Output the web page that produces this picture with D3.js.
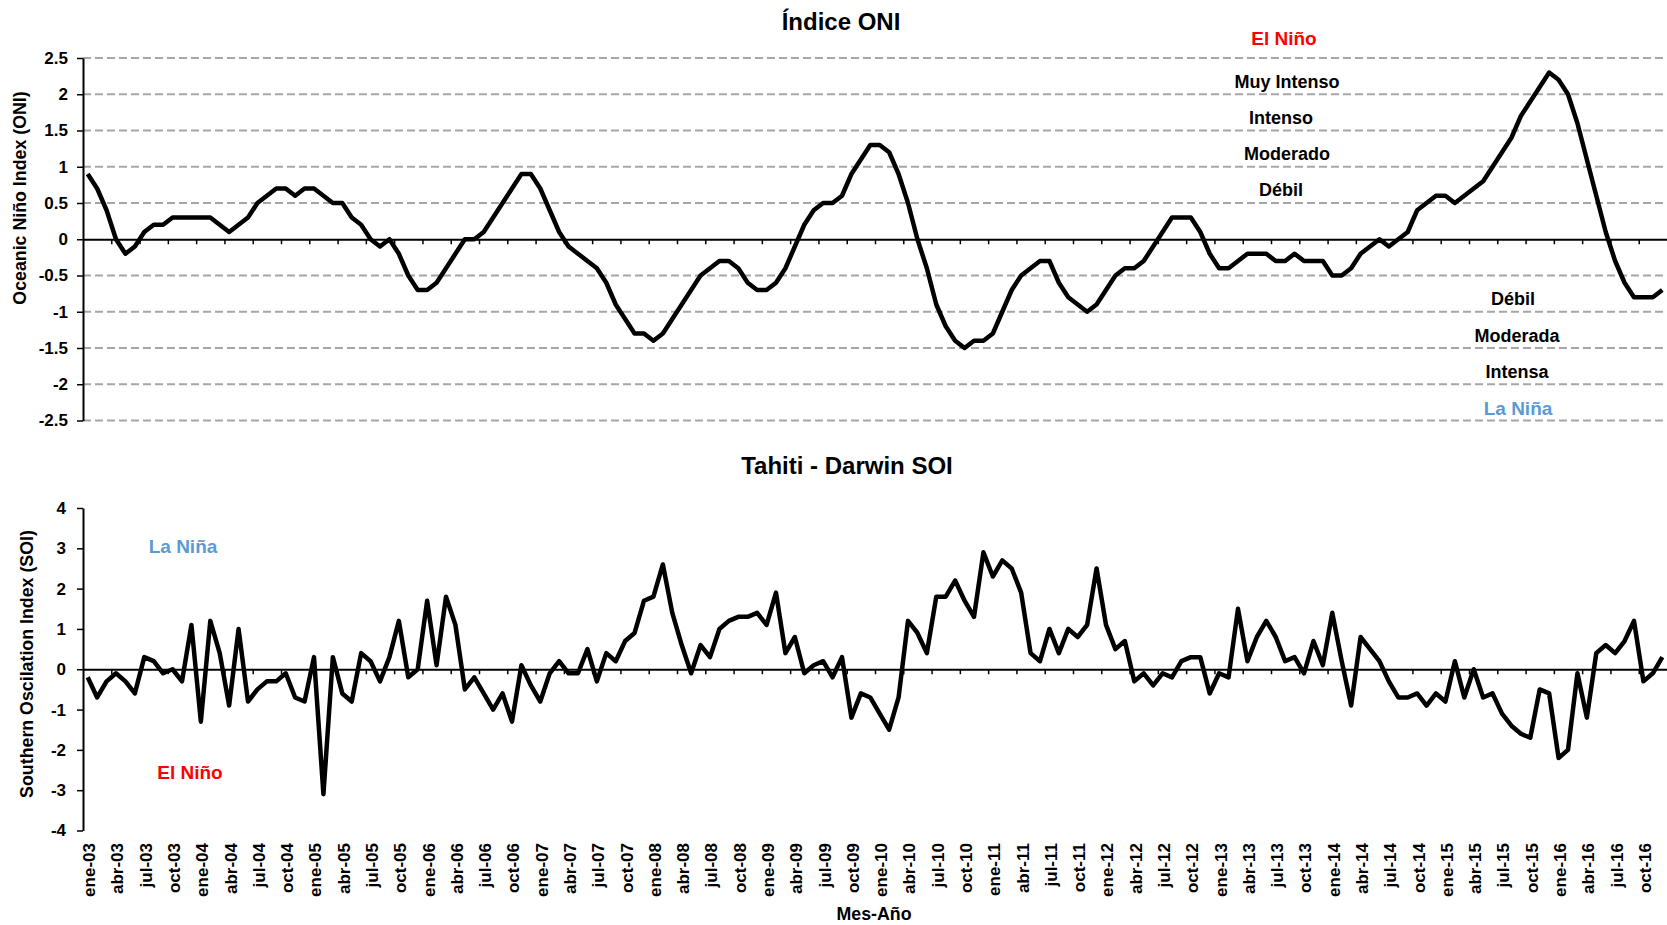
<!DOCTYPE html>
<html>
<head>
<meta charset="utf-8">
<script src="https://cdn.jsdelivr.net/npm/d3@7"></script>
<style>
  body { margin: 0; background: #fff; }
  svg { display: block; font-family: "Liberation Sans", Arial, sans-serif; font-weight: bold; }
</style>
</head>
<body>
<div id="chart"></div>
<script>
// categories: one per month, ene-03 .. dic-16
var monthNames = ["ene", "feb", "mar", "abr", "may", "jun", "jul", "ago", "sep", "oct", "nov", "dic"];
var years = ["03", "04", "05", "06", "07", "08", "09", "10", "11", "12", "13", "14", "15", "16"];

// Oceanic Nino Index, monthly
var oni = [
  0.9, 0.7, 0.4, 0.0, -0.2, -0.1, 0.1, 0.2, 0.2, 0.3, 0.3, 0.3,
  0.3, 0.3, 0.2, 0.1, 0.2, 0.3, 0.5, 0.6, 0.7, 0.7, 0.6, 0.7,
  0.7, 0.6, 0.5, 0.5, 0.3, 0.2, 0.0, -0.1, 0.0, -0.2, -0.5, -0.7,
  -0.7, -0.6, -0.4, -0.2, 0.0, 0.0, 0.1, 0.3, 0.5, 0.7, 0.9, 0.9,
  0.7, 0.4, 0.1, -0.1, -0.2, -0.3, -0.4, -0.6, -0.9, -1.1, -1.3, -1.3,
  -1.4, -1.3, -1.1, -0.9, -0.7, -0.5, -0.4, -0.3, -0.3, -0.4, -0.6, -0.7,
  -0.7, -0.6, -0.4, -0.1, 0.2, 0.4, 0.5, 0.5, 0.6, 0.9, 1.1, 1.3,
  1.3, 1.2, 0.9, 0.5, 0.0, -0.4, -0.9, -1.2, -1.4, -1.5, -1.4, -1.4,
  -1.3, -1.0, -0.7, -0.5, -0.4, -0.3, -0.3, -0.6, -0.8, -0.9, -1.0, -0.9,
  -0.7, -0.5, -0.4, -0.4, -0.3, -0.1, 0.1, 0.3, 0.3, 0.3, 0.1, -0.2,
  -0.4, -0.4, -0.3, -0.2, -0.2, -0.2, -0.3, -0.3, -0.2, -0.3, -0.3, -0.3,
  -0.5, -0.5, -0.4, -0.2, -0.1, 0.0, -0.1, 0.0, 0.1, 0.4, 0.5, 0.6,
  0.6, 0.5, 0.6, 0.7, 0.8, 1.0, 1.2, 1.4, 1.7, 1.9, 2.1, 2.3,
  2.2, 2.0, 1.6, 1.1, 0.6, 0.1, -0.3, -0.6, -0.8, -0.8, -0.8, -0.7
];

// Tahiti - Darwin Southern Oscillation Index, monthly
var soi = [
  -0.2, -0.7, -0.3, -0.1, -0.3, -0.6, 0.3, 0.2, -0.1, 0.0, -0.3, 1.1,
  -1.3, 1.2, 0.4, -0.9, 1.0, -0.8, -0.5, -0.3, -0.3, -0.1, -0.7, -0.8,
  0.3, -3.1, 0.3, -0.6, -0.8, 0.4, 0.2, -0.3, 0.3, 1.2, -0.2, 0.0,
  1.7, 0.1, 1.8, 1.1, -0.5, -0.2, -0.6, -1.0, -0.6, -1.3, 0.1, -0.4,
  -0.8, -0.1, 0.2, -0.1, -0.1, 0.5, -0.3, 0.4, 0.2, 0.7, 0.9, 1.7,
  1.8, 2.6, 1.4, 0.6, -0.1, 0.6, 0.3, 1.0, 1.2, 1.3, 1.3, 1.4,
  1.1, 1.9, 0.4, 0.8, -0.1, 0.1, 0.2, -0.2, 0.3, -1.2, -0.6, -0.7,
  -1.1, -1.5, -0.7, 1.2, 0.9, 0.4, 1.8, 1.8, 2.2, 1.7, 1.3, 2.9,
  2.3, 2.7, 2.5, 1.9, 0.4, 0.2, 1.0, 0.4, 1.0, 0.8, 1.1, 2.5,
  1.1, 0.5, 0.7, -0.3, -0.1, -0.4, -0.1, -0.2, 0.2, 0.3, 0.3, -0.6,
  -0.1, -0.2, 1.5, 0.2, 0.8, 1.2, 0.8, 0.2, 0.3, -0.1, 0.7, 0.1,
  1.4, 0.2, -0.9, 0.8, 0.5, 0.2, -0.3, -0.7, -0.7, -0.6, -0.9, -0.6,
  -0.8, 0.2, -0.7, 0.0, -0.7, -0.6, -1.1, -1.4, -1.6, -1.7, -0.5, -0.6,
  -2.2, -2.0, -0.1, -1.2, 0.4, 0.6, 0.4, 0.7, 1.2, -0.3, -0.1, 0.3
];

var oniTicks = [-2.5, -2, -1.5, -1, -0.5, 0, 0.5, 1, 1.5, 2, 2.5];
var soiTicks = [-4, -3, -2, -1, 0, 1, 2, 3, 4];

// intensity bands on the ONI panel: label and the value it sits at
var ninoBands = [
  {label: "Muy Intenso", v: 2.18, x: 1287},
  {label: "Intenso", v: 1.67, x: 1281},
  {label: "Moderado", v: 1.18, x: 1287},
  {label: "Débil", v: 0.68, x: 1281}
];
var ninaBands = [
  {label: "Débil", v: -0.82, x: 1513},
  {label: "Moderada", v: -1.33, x: 1517},
  {label: "Intensa", v: -1.82, x: 1517}
];

var months = [];
years.forEach(function(y) {
  monthNames.forEach(function(m) { months.push(m + "-" + y); });
});

var W = 1667, H = 925;
var left = 83, right = 1667;

var svg = d3.select("#chart").append("svg")
    .attr("width", W)
    .attr("height", H);

var x = d3.scaleBand().domain(months).range([left, right]).padding(0);
var xIdx = d3.scaleLinear().domain([0, months.length]).range([left, right]);
var cx = function(i) { return x(months[i]) + x.bandwidth() / 2; };

var yTop = d3.scaleLinear().domain([-2.5, 2.5]).range([420.5, 58]);
var yBot = d3.scaleLinear().domain([-4, 4]).range([830.5, 508]);

var boundaryTicks = d3.range(3, months.length, 3);

function drawPanel(y, ticks, values, yTitle, titleX, titleCy, labelPad) {
  var g = svg.append("g");

  // y axis
  var yAxis = d3.axisLeft(y).tickValues(ticks).tickSize(6).tickSizeOuter(0)
      .tickPadding(labelPad).tickFormat(function(d) { return d; });
  var ga = g.append("g")
      .attr("transform", "translate(" + left + ",0)")
      .call(yAxis);
  ga.select(".domain").attr("stroke", "#000").attr("stroke-width", 2);
  ga.selectAll(".tick line").attr("stroke", "#000").attr("stroke-width", 1.5);
  ga.selectAll(".tick text")
      .attr("fill", "#000")
      .style("font-size", "17px")
      .style("font-family", "'Liberation Sans', Arial, sans-serif")
      .style("font-weight", "bold");

  // x axis on the zero line, ticks every 3 months
  var xAxis = d3.axisBottom(xIdx).tickValues(boundaryTicks).tickSize(5)
      .tickSizeOuter(0).tickFormat("");
  var gx = g.append("g")
      .attr("transform", "translate(0," + y(0) + ")")
      .call(xAxis);
  gx.select(".domain").attr("stroke", "#000").attr("stroke-width", 2);
  gx.selectAll(".tick line").attr("stroke", "#000").attr("stroke-width", 1.5);

  // series
  var line = d3.line()
      .x(function(d, i) { return cx(i); })
      .y(function(d) { return y(d); });
  g.append("path")
      .attr("fill", "none")
      .attr("stroke", "#000")
      .attr("stroke-width", 4.5)
      .attr("stroke-linejoin", "round")
      .attr("d", line(values));

  g.append("text")
      .attr("transform", "translate(" + titleX + "," + titleCy + ") rotate(-90)")
      .attr("text-anchor", "middle")
      .attr("dy", "0.35em")
      .style("font-size", "17.8px")
      .text(yTitle);
  return g;
}

// ---- top panel: ONI ----
// dashed grid first so the axes sit on top of it
svg.append("g").selectAll("line")
    .data(oniTicks.filter(function(t) { return t !== 0; }))
  .enter().append("line")
    .attr("x1", left).attr("x2", right)
    .attr("y1", function(d) { return yTop(d); })
    .attr("y2", function(d) { return yTop(d); })
    .attr("stroke", "#a6a6a6")
    .attr("stroke-width", 2)
    .attr("stroke-dasharray", "8,4");

drawPanel(yTop, oniTicks, oni, "Oceanic Niño Index (ONI)", 19.6, 198, 9);

svg.append("text")
    .attr("x", 841).attr("y", 30)
    .attr("text-anchor", "middle")
    .style("font-size", "24px")
    .text("Índice ONI");

var bandsG = svg.append("g").attr("text-anchor", "middle").style("font-size", "18px");
bandsG.selectAll("text")
    .data(ninoBands.concat(ninaBands))
  .enter().append("text")
    .attr("x", function(d) { return d.x; })
    .attr("y", function(d) { return yTop(d.v); })
    .attr("dy", "0.35em")
    .text(function(d) { return d.label; });

svg.append("text")
    .attr("x", 1284).attr("y", yTop(2.77)).attr("dy", "0.35em")
    .attr("text-anchor", "middle")
    .attr("fill", "#ff0000")
    .style("font-size", "19px")
    .text("El Niño");
svg.append("text")
    .attr("x", 1518).attr("y", yTop(-2.33)).attr("dy", "0.35em")
    .attr("text-anchor", "middle")
    .attr("fill", "#5b9bd5")
    .style("font-size", "19px")
    .text("La Niña");

// ---- bottom panel: SOI ----
drawPanel(yBot, soiTicks, soi, "Southern Oscilation Index (SOI)", 27, 664, 11);

svg.append("text")
    .attr("x", 847).attr("y", 474)
    .attr("text-anchor", "middle")
    .style("font-size", "24px")
    .text("Tahiti - Darwin SOI");

svg.append("text")
    .attr("x", 183).attr("y", yBot(3.05)).attr("dy", "0.35em")
    .attr("text-anchor", "middle")
    .attr("fill", "#5b9bd5")
    .style("font-size", "19px")
    .text("La Niña");
svg.append("text")
    .attr("x", 190).attr("y", yBot(-2.55)).attr("dy", "0.35em")
    .attr("text-anchor", "middle")
    .attr("fill", "#ff0000")
    .style("font-size", "19px")
    .text("El Niño");

// month labels, every third month, rotated
svg.append("g").selectAll("text")
    .data(months.filter(function(d, i) { return i % 3 === 0; }))
  .enter().append("text")
    .attr("transform", function(d) {
      return "translate(" + (x(d) + x.bandwidth() / 2 + 1.5) + ",843) rotate(-90)";
    })
    .attr("text-anchor", "end")
    .attr("dy", "0.35em")
    .style("font-size", "17px")
    .text(function(d) { return d; });

svg.append("text")
    .attr("x", 874).attr("y", 920)
    .attr("text-anchor", "middle")
    .style("font-size", "17.8px")
    .text("Mes-Año");
</script>
</body>
</html>
